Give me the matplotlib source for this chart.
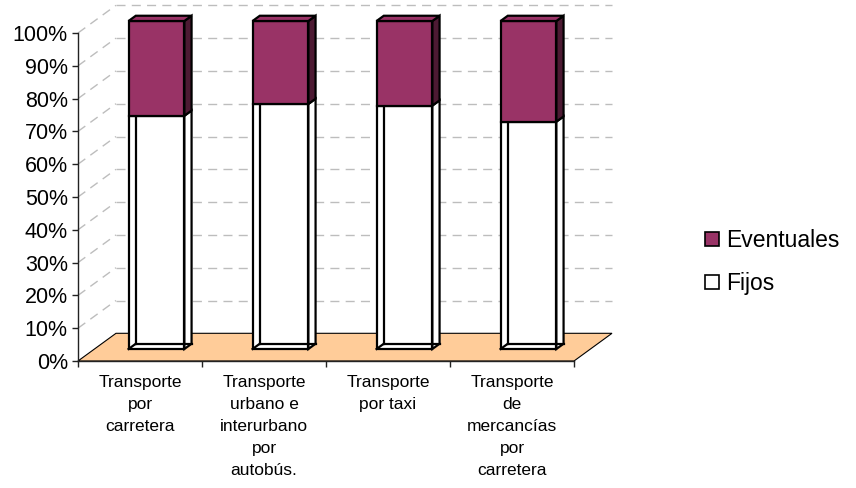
import matplotlib
matplotlib.use("Agg")
import matplotlib.pyplot as plt
from matplotlib.patches import Polygon, Patch

# --- data -------------------------------------------------------------
categories = [
    "Transporte\npor\ncarretera",
    "Transporte\nurbano e\ninterurbano\npor\nautobús.",
    "Transporte\npor taxi",
    "Transporte\nde\nmercancías\npor\ncarretera",
]
fijos = [71.1, 74.7, 74.2, 69.3]          # % of workers with permanent contracts
eventuales = [28.9, 25.3, 25.8, 30.7]     # % of workers with temporary contracts
y_ticks = [0, 10, 20, 30, 40, 50, 60, 70, 80, 90, 100]
y_tick_labels = [f"{v}%" for v in y_ticks]

# --- style ------------------------------------------------------------
plt.rcParams["font.family"] = ["Liberation Sans", "DejaVu Sans"]
PURPLE = "#993366"
PURPLE_SIDE = "#4D1A33"
FLOOR = "#FFCC99"
GRID = "#BDBDBD"
EDGE = "black"

W, H = 856, 488
fig = plt.figure(figsize=(W / 100, H / 100), dpi=100)
fig.patch.set_facecolor("white")
ax = fig.add_axes([78 / W, 127 / H, 496 / W, 328 / H])
n = len(categories)
ax.set_xlim(-0.5, n - 0.5)
ax.set_ylim(0, 100)
ax.patch.set_visible(False)

# oblique projection: depth 0 = front plane, depth 1 = back wall
DX = 38 / 124      # horizontal shift of the back wall (category units)
DY = 27.7 / 3.28   # vertical shift of the back wall (percentage units)


def proj(x, y, z):
    return (x + z * DX, y + z * DY)


x0, x1 = -0.5, n - 0.5

# floor
floor = Polygon([proj(x0, 0, 0), proj(x1, 0, 0), proj(x1, 0, 1), proj(x0, 0, 1)],
                closed=True, facecolor=FLOOR, edgecolor=EDGE, lw=0.8,
                zorder=1, clip_on=False)
ax.add_patch(floor)

# gridlines on the back wall and the left side wall
for v in y_ticks[1:]:
    bx, by = zip(proj(x0, v, 1), proj(x1, v, 1))
    ax.plot(bx, by, color=GRID, lw=1, dashes=(6.5, 4.5), zorder=1, clip_on=False)
    sx, sy = zip(proj(x0, v, 0), proj(x0, v, 1))
    ax.plot(sx, sy, color=GRID, lw=1, dashes=(6.5, 4.5), zorder=1, clip_on=False)

# 3D stacked columns
Z0 = 0.433       # depth of the column front face
Z1 = Z0 + 0.19   # depth of the column back face
HALF = 0.225     # half width of a column
LW = 1.6


def add_poly(pts, fc, z):
    ax.add_patch(Polygon(pts, closed=True, facecolor=fc, edgecolor=EDGE, lw=LW,
                         joinstyle="miter", zorder=z, clip_on=False))


def add_line(p, q, z):
    ax.plot([p[0], q[0]], [p[1], q[1]], color=EDGE, lw=LW, zorder=z,
            solid_capstyle="projecting", clip_on=False)


for i, (f, e) in enumerate(zip(fijos, eventuales)):
    xl, xr = i - HALF, i + HALF
    zb = 3 + i * 10
    # permanent share: white, wireframe look with the hidden edges showing
    b, t = 0, f
    add_poly([proj(xr, b, Z0), proj(xr, b, Z1), proj(xr, t, Z1), proj(xr, t, Z0)], "white", zb)
    add_poly([proj(xl, b, Z0), proj(xr, b, Z0), proj(xr, t, Z0), proj(xl, t, Z0)], "white", zb + 1)
    add_line(proj(xl, b, Z1), proj(xl, t, Z1), zb + 2)
    add_line(proj(xl, b, Z1), proj(xr, b, Z1), zb + 2)
    add_line(proj(xl, b, Z0), proj(xl, b, Z1), zb + 2)
    # temporary share on top
    b, t = f, f + e
    add_poly([proj(xr, b, Z0), proj(xr, b, Z1), proj(xr, t, Z1), proj(xr, t, Z0)], PURPLE_SIDE, zb + 3)
    add_poly([proj(xl, b, Z0), proj(xr, b, Z0), proj(xr, t, Z0), proj(xl, t, Z0)], PURPLE, zb + 4)
    add_poly([proj(xl, t, Z0), proj(xr, t, Z0), proj(xr, t, Z1), proj(xl, t, Z1)], PURPLE, zb + 4)

# axes
for s in ("top", "right"):
    ax.spines[s].set_visible(False)
for s in ("left", "bottom"):
    ax.spines[s].set_color("#222222")
    ax.spines[s].set_linewidth(1)
    ax.spines[s].set_zorder(2)

ax.set_yticks(y_ticks)
ax.set_yticklabels(y_tick_labels)
ax.tick_params(axis="y", direction="out", length=4.3, width=1, pad=3,
               labelsize=15.5, color="#222222")

ax.set_xticks([k - 0.5 for k in range(n + 1)])
ax.set_xticklabels([])
ax.set_xticks(list(range(n)), minor=True)
ax.set_xticklabels(categories, minor=True, fontsize=12.5, linespacing=1.58,
                   ha="center", va="top")
ax.tick_params(axis="x", which="major", direction="out", length=4.3, width=1,
               color="#222222")
ax.tick_params(axis="x", which="minor", length=0, pad=10)

# legend
handles = [Patch(facecolor=PURPLE, edgecolor=EDGE, lw=1.2, label="Eventuales"),
           Patch(facecolor="white", edgecolor=EDGE, lw=1.2, label="Fijos")]
fig.legend(handles=handles, loc="upper left", bbox_to_anchor=(705 / W, 1 - 229 / H),
           frameon=False, fontsize=16.5, handlelength=0.6, handleheight=0.6,
           handletextpad=0.3, labelspacing=0.88, borderpad=0, borderaxespad=0)

fig.savefig("out.png", dpi=100)
